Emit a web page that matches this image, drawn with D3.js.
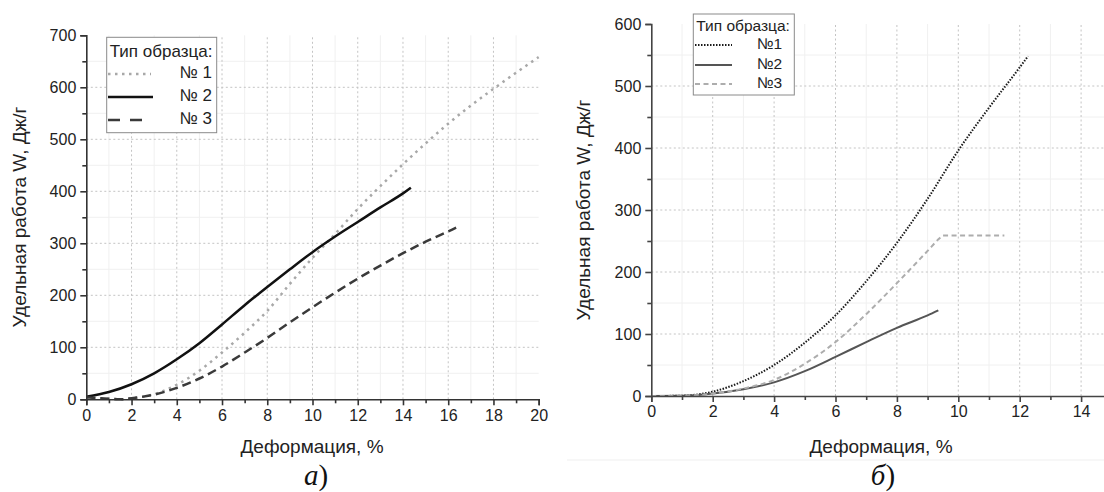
<!DOCTYPE html>
<html><head><meta charset="utf-8">
<script src="https://cdn.jsdelivr.net/npm/d3@7"></script>
<style>
body{margin:0;background:#fff;}
svg{display:block;font-family:"Liberation Sans",Arial,sans-serif;}
</style></head><body>
<svg id="c" width="1104" height="492"></svg>
<script>
// ---------- Data: chart (а) ----------
const a_xTicks = [0,2,4,6,8,10,12,14,16,18,20];
const a_yTicks = [0,100,200,300,400,500,600,700];
const a_s1_x = [0,1,1.5,2,3,4,5,6,7,8,9,10,11,12,13,14,15,16,17,18,19,20];
const a_s1_y = [4,1,0,2,10,28,55,90,128,170,222,272,318,366,410,452,492,530,565,597,628,658];
const a_s2_x = [0,1,2,3,4,5,6,7,8,9,10,11,12,13,14,14.35];
const a_s2_y = [5,14,29,50,77,108,144,181,216,250,283,313,341,369,396,407];
const a_s3_x = [0,1,1.5,2,3,4,5,6,7,8,9,10,11,12,13,14,15,16,16.35];
const a_s3_y = [4,1,0,2,9,22,40,63,90,118,148,177,205,232,257,281,303,323,330];
const a_names = ["№ 1","№ 2","№ 3"];

// ---------- Data: chart (б) ----------
const b_xTicks = [0,2,4,6,8,10,12,14];
const b_yTicks = [0,100,200,300,400,500,600];
const b_s1_x = [0,1,2,3,4,5,6,7,8,9,10,11,12,12.27];
const b_s1_y = [0,0.5,7,24,50,86,130,185,247,318,396,465,530,548];
const b_s2_x = [0,1,2,3,4,5,6,7,8,9,9.35];
const b_s2_y = [0,0.3,4,11,22,40,63,87,110,130,138];
const b_s3_x = [0,1,2,3,4,5,6,7,8,9,9.4,9.5,11.5];
const b_s3_y = [0,0.3,4,12,26,52,87,132,182,234,255,259,259];
const b_names = ["№1","№2","№3"];

const svg = d3.select("#c");

function zip(xs, ys){ return xs.map((x,i)=>[x, ys[i]]); }

function drawChart(cfg){
  const g = svg.append("g");
  const x = d3.scaleLinear().domain(cfg.xDomain).range(cfg.xRange);
  const y = d3.scaleLinear().domain(cfg.yDomain).range(cfg.yRange);
  const xMax = cfg.xGridMax, yMax = cfg.yGridMax;
  // minor grid (very light)
  cfg.xMinor.forEach(v=>{
    g.append("line").attr("x1",x(v)).attr("x2",x(v)).attr("y1",y(0)).attr("y2",y(cfg.yDomain[1]))
     .attr("stroke","#f0f0f0").attr("stroke-width",1);
  });
  cfg.yMinor.forEach(v=>{
    g.append("line").attr("x1",x(0)).attr("x2",x(cfg.xDomain[1])).attr("y1",y(v)).attr("y2",y(v))
     .attr("stroke","#f0f0f0").attr("stroke-width",1);
  });
  // major grid dotted
  cfg.xTicks.filter(v=>v>0 && v<=xMax).forEach(v=>{
    g.append("line").attr("x1",x(v)).attr("x2",x(v)).attr("y1",y(0)).attr("y2",y(cfg.yDomain[1]))
     .attr("stroke","#c4c4c4").attr("stroke-width",1).attr("stroke-dasharray","2,2.5");
  });
  cfg.yTicks.filter(v=>v>0 && v<=yMax).forEach(v=>{
    g.append("line").attr("x1",x(0)).attr("x2",x(cfg.xDomain[1])).attr("y1",y(v)).attr("y2",y(v))
     .attr("stroke","#c4c4c4").attr("stroke-width",1).attr("stroke-dasharray","2,2.5");
  });
  // series
  const line = d3.line().x(d=>x(d[0])).y(d=>y(d[1])).curve(d3.curveMonotoneX);
  cfg.series.forEach(s=>{
    g.append("path").attr("d", line(zip(s.x, s.y))).attr("fill","none")
     .attr("stroke", s.color).attr("stroke-width", s.width)
     .attr("stroke-dasharray", s.dash || null).attr("stroke-linecap","butt");
  });
  // axes
  const ax = g.append("g").attr("transform",`translate(0,${y(0)})`)
    .call(d3.axisBottom(x).tickValues(cfg.xTicks).tickFormat(d3.format("d")).tickSizeOuter(0).tickSize(6).tickPadding(4));
  const axm = g.append("g").attr("transform",`translate(0,${y(0)})`)
    .call(d3.axisBottom(x).tickValues(cfg.xMinor).tickFormat("").tickSizeOuter(0).tickSize(4));
  const ay = g.append("g").attr("transform",`translate(${x(0)},0)`)
    .call(d3.axisLeft(y).tickValues(cfg.yTicks).tickFormat(d3.format("d")).tickSizeOuter(0).tickSize(6).tickPadding(4));
  const aym = g.append("g").attr("transform",`translate(${x(0)},0)`)
    .call(d3.axisLeft(y).tickValues(cfg.yMinor).tickFormat("").tickSizeOuter(0).tickSize(4));
  [ax,axm,ay,aym].forEach(a=>{
    a.attr("font-size",cfg.tickFont).attr("font-family","'Liberation Sans',Arial,sans-serif");
    a.selectAll("path,line").attr("stroke",cfg.axisColor).attr("stroke-width",1.6);
    a.selectAll("text").attr("fill","#222");
  });
  axm.select("path").remove(); aym.select("path").remove();
  // axis titles
  g.append("text").attr("x",cfg.xTitlePos[0]).attr("y",cfg.xTitlePos[1]).attr("text-anchor","middle")
    .attr("font-size",cfg.titleFont).attr("fill","#222").text("Деформация, %");
  g.append("text").attr("transform",`translate(${cfg.yTitlePos[0]},${cfg.yTitlePos[1]}) rotate(-90)`)
    .attr("text-anchor","middle").attr("dominant-baseline","middle")
    .attr("font-size",cfg.titleFont).attr("fill","#222").text("Удельная работа W, Дж/г");
  // legend
  const L = cfg.legend;
  g.append("rect").attr("x",L.x).attr("y",L.y).attr("width",L.w).attr("height",L.h)
    .attr("fill","#fff").attr("stroke","#8a8a8a").attr("stroke-width",1);
  g.append("text").attr("x",L.x+3).attr("y",L.titleY).attr("dominant-baseline","middle")
    .attr("font-size",L.font).attr("fill","#222").text("Тип образца:");
  cfg.series.forEach((s,i)=>{
    const yy = L.rows[i];
    g.append("line").attr("x1",L.lx1).attr("x2",L.lx2[i]).attr("y1",yy).attr("y2",yy)
      .attr("stroke",s.color).attr("stroke-width",s.width).attr("stroke-dasharray",s.ldash || s.dash || null);
    g.append("text").attr("x",L.textRight).attr("y",yy).attr("text-anchor","end").attr("dominant-baseline","middle")
      .attr("font-size",L.font).attr("fill","#222").text(cfg.names[i]);
  });
  // panel label
  const pl = g.append("text").attr("x",cfg.panelPos[0]).attr("y",cfg.panelPos[1]).attr("text-anchor","middle")
    .attr("font-family","'Liberation Serif','Times New Roman',serif").attr("font-size",29).attr("fill","#111");
  pl.append("tspan").attr("font-style","italic").text(cfg.panel);
  pl.append("tspan").text(")");
}

drawChart({
  xDomain:[0,20], xRange:[86.3,538.7], yDomain:[0,700], yRange:[399.3,35.3],
  xTicks:a_xTicks, yTicks:a_yTicks, xGridMax:18, yGridMax:600,
  xMinor:[1,3,5,7,9,11,13,15,17,19], yMinor:[50,150,250,350,450,550,650],
  axisColor:"#333", tickFont:16, titleFont:19,
  xTitlePos:[312,453], yTitlePos:[21,217],
  names:a_names,
  series:[
    {x:a_s1_x,y:a_s1_y,color:"#a8a8a8",width:2.5,dash:"2.5,4.5"},
    {x:a_s2_x,y:a_s2_y,color:"#111",width:2.5},
    {x:a_s3_x,y:a_s3_y,color:"#3a3a3a",width:2.5,dash:"9,5",ldash:"12,10"}
  ],
  legend:{x:106.7,y:37.3,w:110,h:95.4,font:17,titleY:53,rows:[74,97,120],lx1:108,lx2:[151,153,142],textRight:212},
  panelPos:[316,485], panel:"а"
});

drawChart({
  xDomain:[0,15], xRange:[651.3,651.3+15*30.7], yDomain:[0,600], yRange:[396,24],
  xTicks:b_xTicks, yTicks:b_yTicks, xGridMax:14, yGridMax:500,
  xMinor:[1,3,5,7,9,11,13], yMinor:[50,150,250,350,450,550],
  axisColor:"#444", tickFont:16, titleFont:19,
  xTitlePos:[881,453], yTitlePos:[585,210],
  names:b_names,
  series:[
    {x:b_s1_x,y:b_s1_y,color:"#1a1a1a",width:2,dash:"1.5,1.5"},
    {x:b_s2_x,y:b_s2_y,color:"#555",width:2},
    {x:b_s3_x,y:b_s3_y,color:"#adadad",width:2,dash:"5,3.5"}
  ],
  legend:{x:693.3,y:14,w:101,h:81,font:15.5,titleY:27,rows:[45,65,84],lx1:695,lx2:[732,732,732],textRight:782},
  panelPos:[883,485], panel:"б"
});

// faint separator under panel (б)
svg.append("line").attr("x1",567).attr("x2",1104).attr("y1",460).attr("y2",460)
  .attr("stroke","#efefef").attr("stroke-width",1);
</script>
</body></html>
